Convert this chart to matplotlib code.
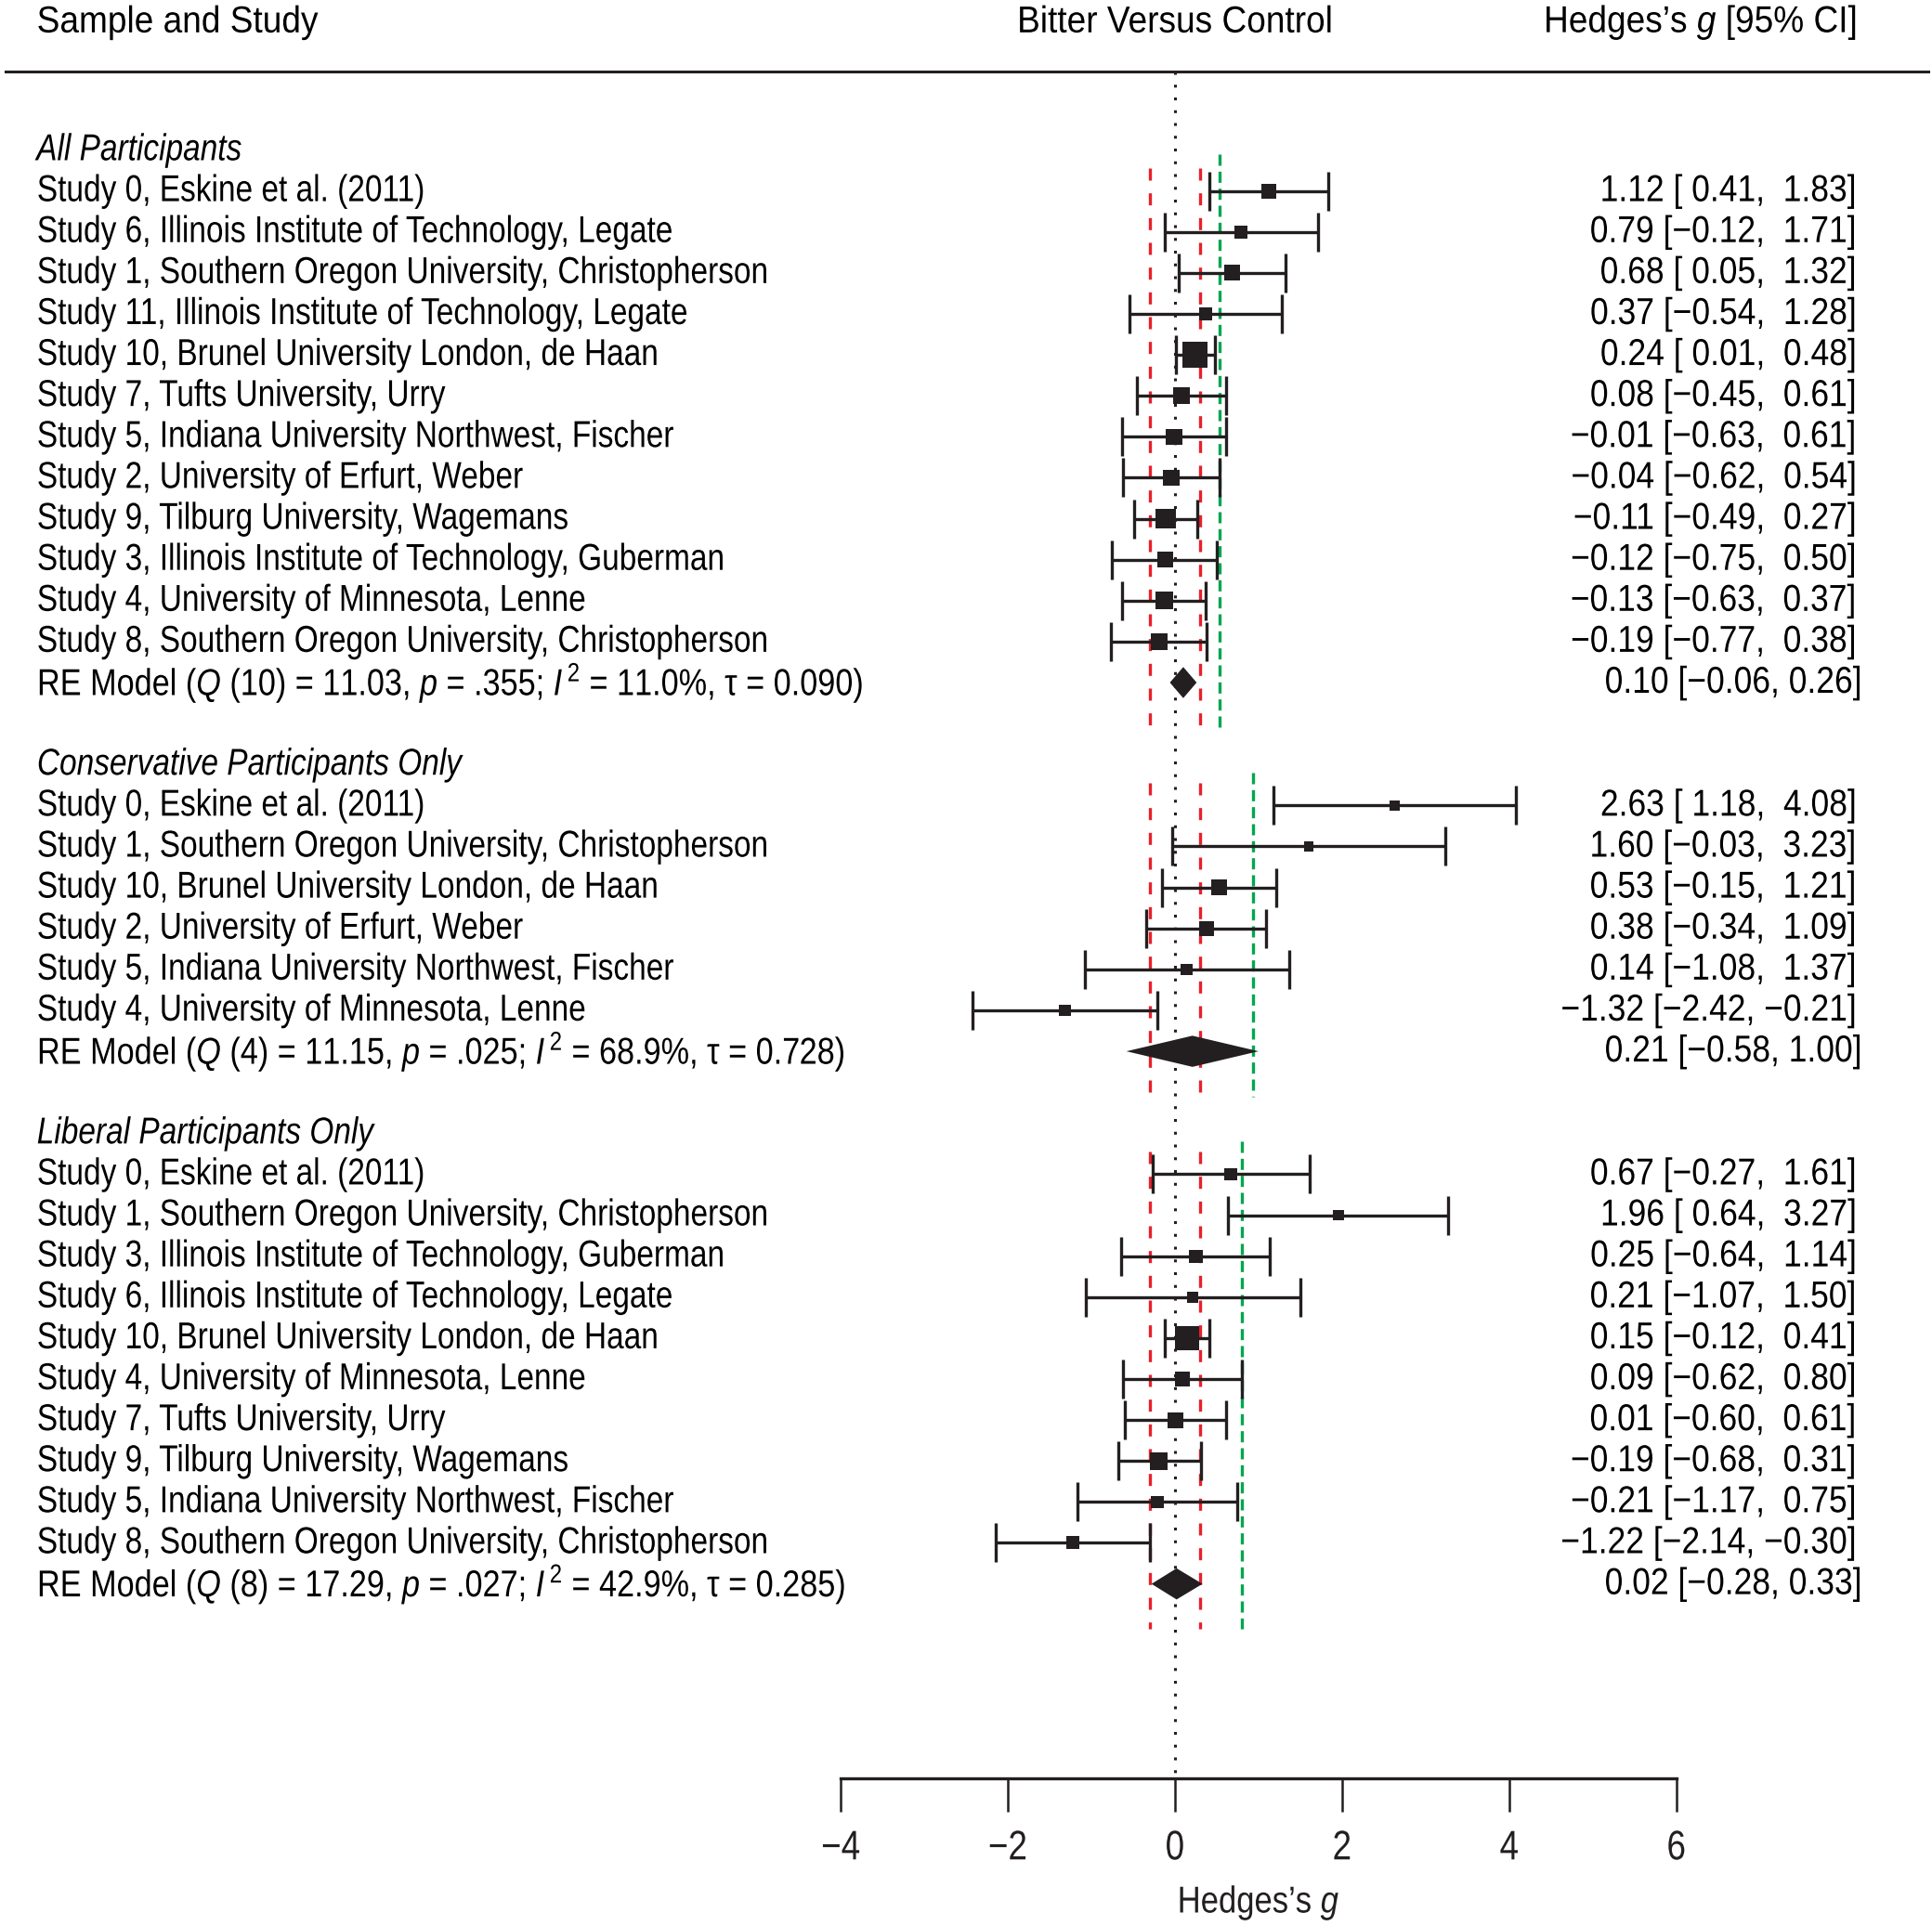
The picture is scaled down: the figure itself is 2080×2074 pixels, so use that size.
import numpy as np
import matplotlib
matplotlib.use("Agg")
import matplotlib.pyplot as plt
from matplotlib.transforms import blended_transform_factory, Affine2D
from matplotlib.patheffects import AbstractPathEffect

# no condensed Helvetica here, so squeeze Liberation Sans sideways
plt.rcParams['font.family'] = ['Liberation Sans', 'DejaVu Sans']
plt.rcParams['mathtext.fontset'] = 'custom'
plt.rcParams['mathtext.rm'] = 'Liberation Sans'
plt.rcParams['mathtext.it'] = 'Liberation Sans:italic'

INK = '#231f20'
RED = '#e8202a'
GREEN = '#00a650'
FS = 29

# ---- data ----
studies_all = ["Study 0, Eskine et al. (2011)",
               "Study 6, Illinois Institute of Technology, Legate",
               "Study 1, Southern Oregon University, Christopherson",
               "Study 11, Illinois Institute of Technology, Legate",
               "Study 10, Brunel University London, de Haan",
               "Study 7, Tufts University, Urry",
               "Study 5, Indiana University Northwest, Fischer",
               "Study 2, University of Erfurt, Weber",
               "Study 9, Tilburg University, Wagemans",
               "Study 3, Illinois Institute of Technology, Guberman",
               "Study 4, University of Minnesota, Lenne",
               "Study 8, Southern Oregon University, Christopherson"]
g_all = [1.12, 0.79, 0.68, 0.37, 0.24, 0.08, -0.01, -0.04, -0.11, -0.12, -0.13, -0.19]
lo_all = [0.41, -0.12, 0.05, -0.54, 0.01, -0.45, -0.63, -0.62, -0.49, -0.75, -0.63, -0.77]
hi_all = [1.83, 1.71, 1.32, 1.28, 0.48, 0.61, 0.61, 0.54, 0.27, 0.50, 0.37, 0.38]
re_all = [0.10, -0.06, 0.26]
stats_all = ["10", "11.03", ".355", "11.0", "0.090"]

studies_con = ["Study 0, Eskine et al. (2011)",
               "Study 1, Southern Oregon University, Christopherson",
               "Study 10, Brunel University London, de Haan",
               "Study 2, University of Erfurt, Weber",
               "Study 5, Indiana University Northwest, Fischer",
               "Study 4, University of Minnesota, Lenne"]
g_con = [2.63, 1.60, 0.53, 0.38, 0.14, -1.32]
lo_con = [1.18, -0.03, -0.15, -0.34, -1.08, -2.42]
hi_con = [4.08, 3.23, 1.21, 1.09, 1.37, -0.21]
re_con = [0.21, -0.58, 1.00]
stats_con = ["4", "11.15", ".025", "68.9", "0.728"]

studies_lib = ["Study 0, Eskine et al. (2011)",
               "Study 1, Southern Oregon University, Christopherson",
               "Study 3, Illinois Institute of Technology, Guberman",
               "Study 6, Illinois Institute of Technology, Legate",
               "Study 10, Brunel University London, de Haan",
               "Study 4, University of Minnesota, Lenne",
               "Study 7, Tufts University, Urry",
               "Study 9, Tilburg University, Wagemans",
               "Study 5, Indiana University Northwest, Fischer",
               "Study 8, Southern Oregon University, Christopherson"]
g_lib = [0.67, 1.96, 0.25, 0.21, 0.15, 0.09, 0.01, -0.19, -0.21, -1.22]
lo_lib = [-0.27, 0.64, -0.64, -1.07, -0.12, -0.62, -0.60, -0.68, -1.17, -2.14]
hi_lib = [1.61, 3.27, 1.14, 1.50, 0.41, 0.80, 0.61, 0.31, 0.75, -0.30]
re_lib = [0.02, -0.28, 0.33]
stats_lib = ["8", "17.29", ".027", "42.9", "0.285"]

group_names = ["All Participants", "Conservative Participants Only", "Liberal Participants Only"]
sesoi = [-0.3, 0.3]              # red dashed lines
green_ref = [0.53, 0.94, 0.80]   # green dashed line per subgroup
xticks = [-4, -2, 0, 2, 4, 6]


class Squeeze(AbstractPathEffect):
    """draw text narrower, keeping one edge of it fixed"""
    def __init__(self, sx, anchor='left'):
        super().__init__()
        self.sx, self.anchor = sx, anchor

    def draw_path(self, renderer, gc, tpath, affine, rgbFace=None):
        ext = tpath.get_extents(affine)
        px = {'left': ext.x0, 'right': ext.x1, 'center': 0.5 * (ext.x0 + ext.x1)}[self.anchor]
        aff = affine + Affine2D().translate(-px, 0).scale(self.sx, 1).translate(px, 0)
        renderer.draw_path(gc, tpath, aff, rgbFace)


def fmt(v):
    return f"{v:.2f}".replace("-", "\u2212")


def pad(v):
    return (" " if v >= 0 else "") + fmt(v)


fig = plt.figure(figsize=(20.8, 20.74), dpi=100)
ax = fig.add_axes([0, 0, 1, 1])
ax.set_xlim(-14.06, 9.06)
ax.set_ylim(42.35, -4.66)
trans = blended_transform_factory(ax.transAxes, ax.transData)
XL, XR = 0.019, 0.961

# header
ax.text(XL, -4.12, "Sample and Study", transform=trans, fontsize=FS, va='center',
        path_effects=[Squeeze(0.92, 'left')])
ax.text(0, -4.12, "Bitter Versus Control", fontsize=FS, va='center', ha='center',
        path_effects=[Squeeze(0.92, 'center')])
ax.text(XR, -4.12, "Hedges\u2019s $g$ [95% CI]", transform=trans, fontsize=FS, va='center', ha='right',
        path_effects=[Squeeze(0.92, 'right')])
ax.axhline(-2.92, xmin=0.003, xmax=0.998, color=INK, lw=2.2)

# zero line
ax.plot([0, 0], [-2.92, 38.74], color=INK, lw=2.2, linestyle=(0, (1, 3.5)))

groups = [(studies_all, g_all, lo_all, hi_all, re_all, stats_all),
          (studies_con, g_con, lo_con, hi_con, re_con, stats_con),
          (studies_lib, g_lib, lo_lib, hi_lib, re_lib, stats_lib)]

start = -1
for gi, (names, g, lo, hi, re, st) in enumerate(groups):
    g, lo, hi = np.array(g), np.array(lo), np.array(hi)
    ys = start + 1 + np.arange(len(names))
    y_re = ys[-1] + 1
    ax.text(XL, start, group_names[gi], transform=trans, fontsize=FS, va='center', style='italic',
            path_effects=[Squeeze(0.83, 'left')])

    # reference lines for this subgroup
    top = start + 0.45
    for r in sesoi:
        ax.plot([r, r], [top, y_re + 1.1], color=RED, lw=2.4, linestyle=(0, (3.9, 4.1)))
    gtop = start + (0.1 if gi == 0 else 0.2)
    ax.plot([green_ref[gi]] * 2, [gtop, y_re + 1.1], color=GREEN, lw=2.4, linestyle=(0, (3.6, 1.9)))

    ax.errorbar(g, ys, xerr=[g - lo, hi - g], fmt='none', ecolor=INK,
                elinewidth=2.4, capsize=15, capthick=2.4)
    w = 1 / (hi - lo)
    size_px = 19 * np.sqrt(w)
    ax.scatter(g, ys, marker='s', s=(size_px * 0.72) ** 2, color=INK, linewidths=0, zorder=3)

    for name, y, gv, l, h in zip(names, ys, g, lo, hi):
        ax.text(XL, y, name, transform=trans, fontsize=FS, va='center',
                path_effects=[Squeeze(0.83, 'left')])
        ax.text(XR, y, f"{fmt(gv)} [{pad(l)}, {pad(h)}]", transform=trans,
                fontsize=FS, va='center', ha='right', path_effects=[Squeeze(0.88, 'right')])

    # RE diamond
    est, rl, rh = re
    ax.fill([rl, est, rh, est], [y_re, y_re - 0.38, y_re, y_re + 0.38], color=INK, lw=0, zorder=3)
    q_df, q, p, i2, tau = st
    ax.text(XL, y_re, f"RE Model ($Q$ ({q_df}) = {q}, $p$ = {p}; $I^{{\\,2}}$ = {i2}%, \u03c4 = {tau})",
            transform=trans, fontsize=FS, va='center', path_effects=[Squeeze(0.85, 'left')])
    ax.text(XR + 0.003, y_re, f"{fmt(est)} [{fmt(rl)}, {fmt(rh)}]", transform=trans,
            fontsize=FS, va='center', ha='right', path_effects=[Squeeze(0.88, 'right')])

    start = y_re + 2

# bottom axis
for s in ['top', 'left', 'right']:
    ax.spines[s].set_visible(False)
ax.spines['bottom'].set_position(('data', 38.74))
ax.spines['bottom'].set_bounds(xticks[0], xticks[-1])
ax.spines['bottom'].set_linewidth(2.4)
ax.spines['bottom'].set_color(INK)
ax.set_yticks([])
ax.set_xticks(xticks)
ax.set_xticklabels([fmt(t).replace(".00", "") for t in xticks])
ax.tick_params(axis='x', length=26, width=1.8, color=INK, labelsize=32, pad=14, labelcolor=INK)
for lab in ax.get_xticklabels():
    lab.set_path_effects([Squeeze(0.83, 'center')])
ax.set_xlabel("Hedges\u2019s $g$", fontsize=FS, color=INK, path_effects=[Squeeze(0.86, 'center')])
ax.xaxis.set_label_coords(np.mean([xticks[0], xticks[-1]]), 41.3, transform=ax.transData)
ax.patch.set_visible(False)

fig.savefig("out.png", dpi=100)
